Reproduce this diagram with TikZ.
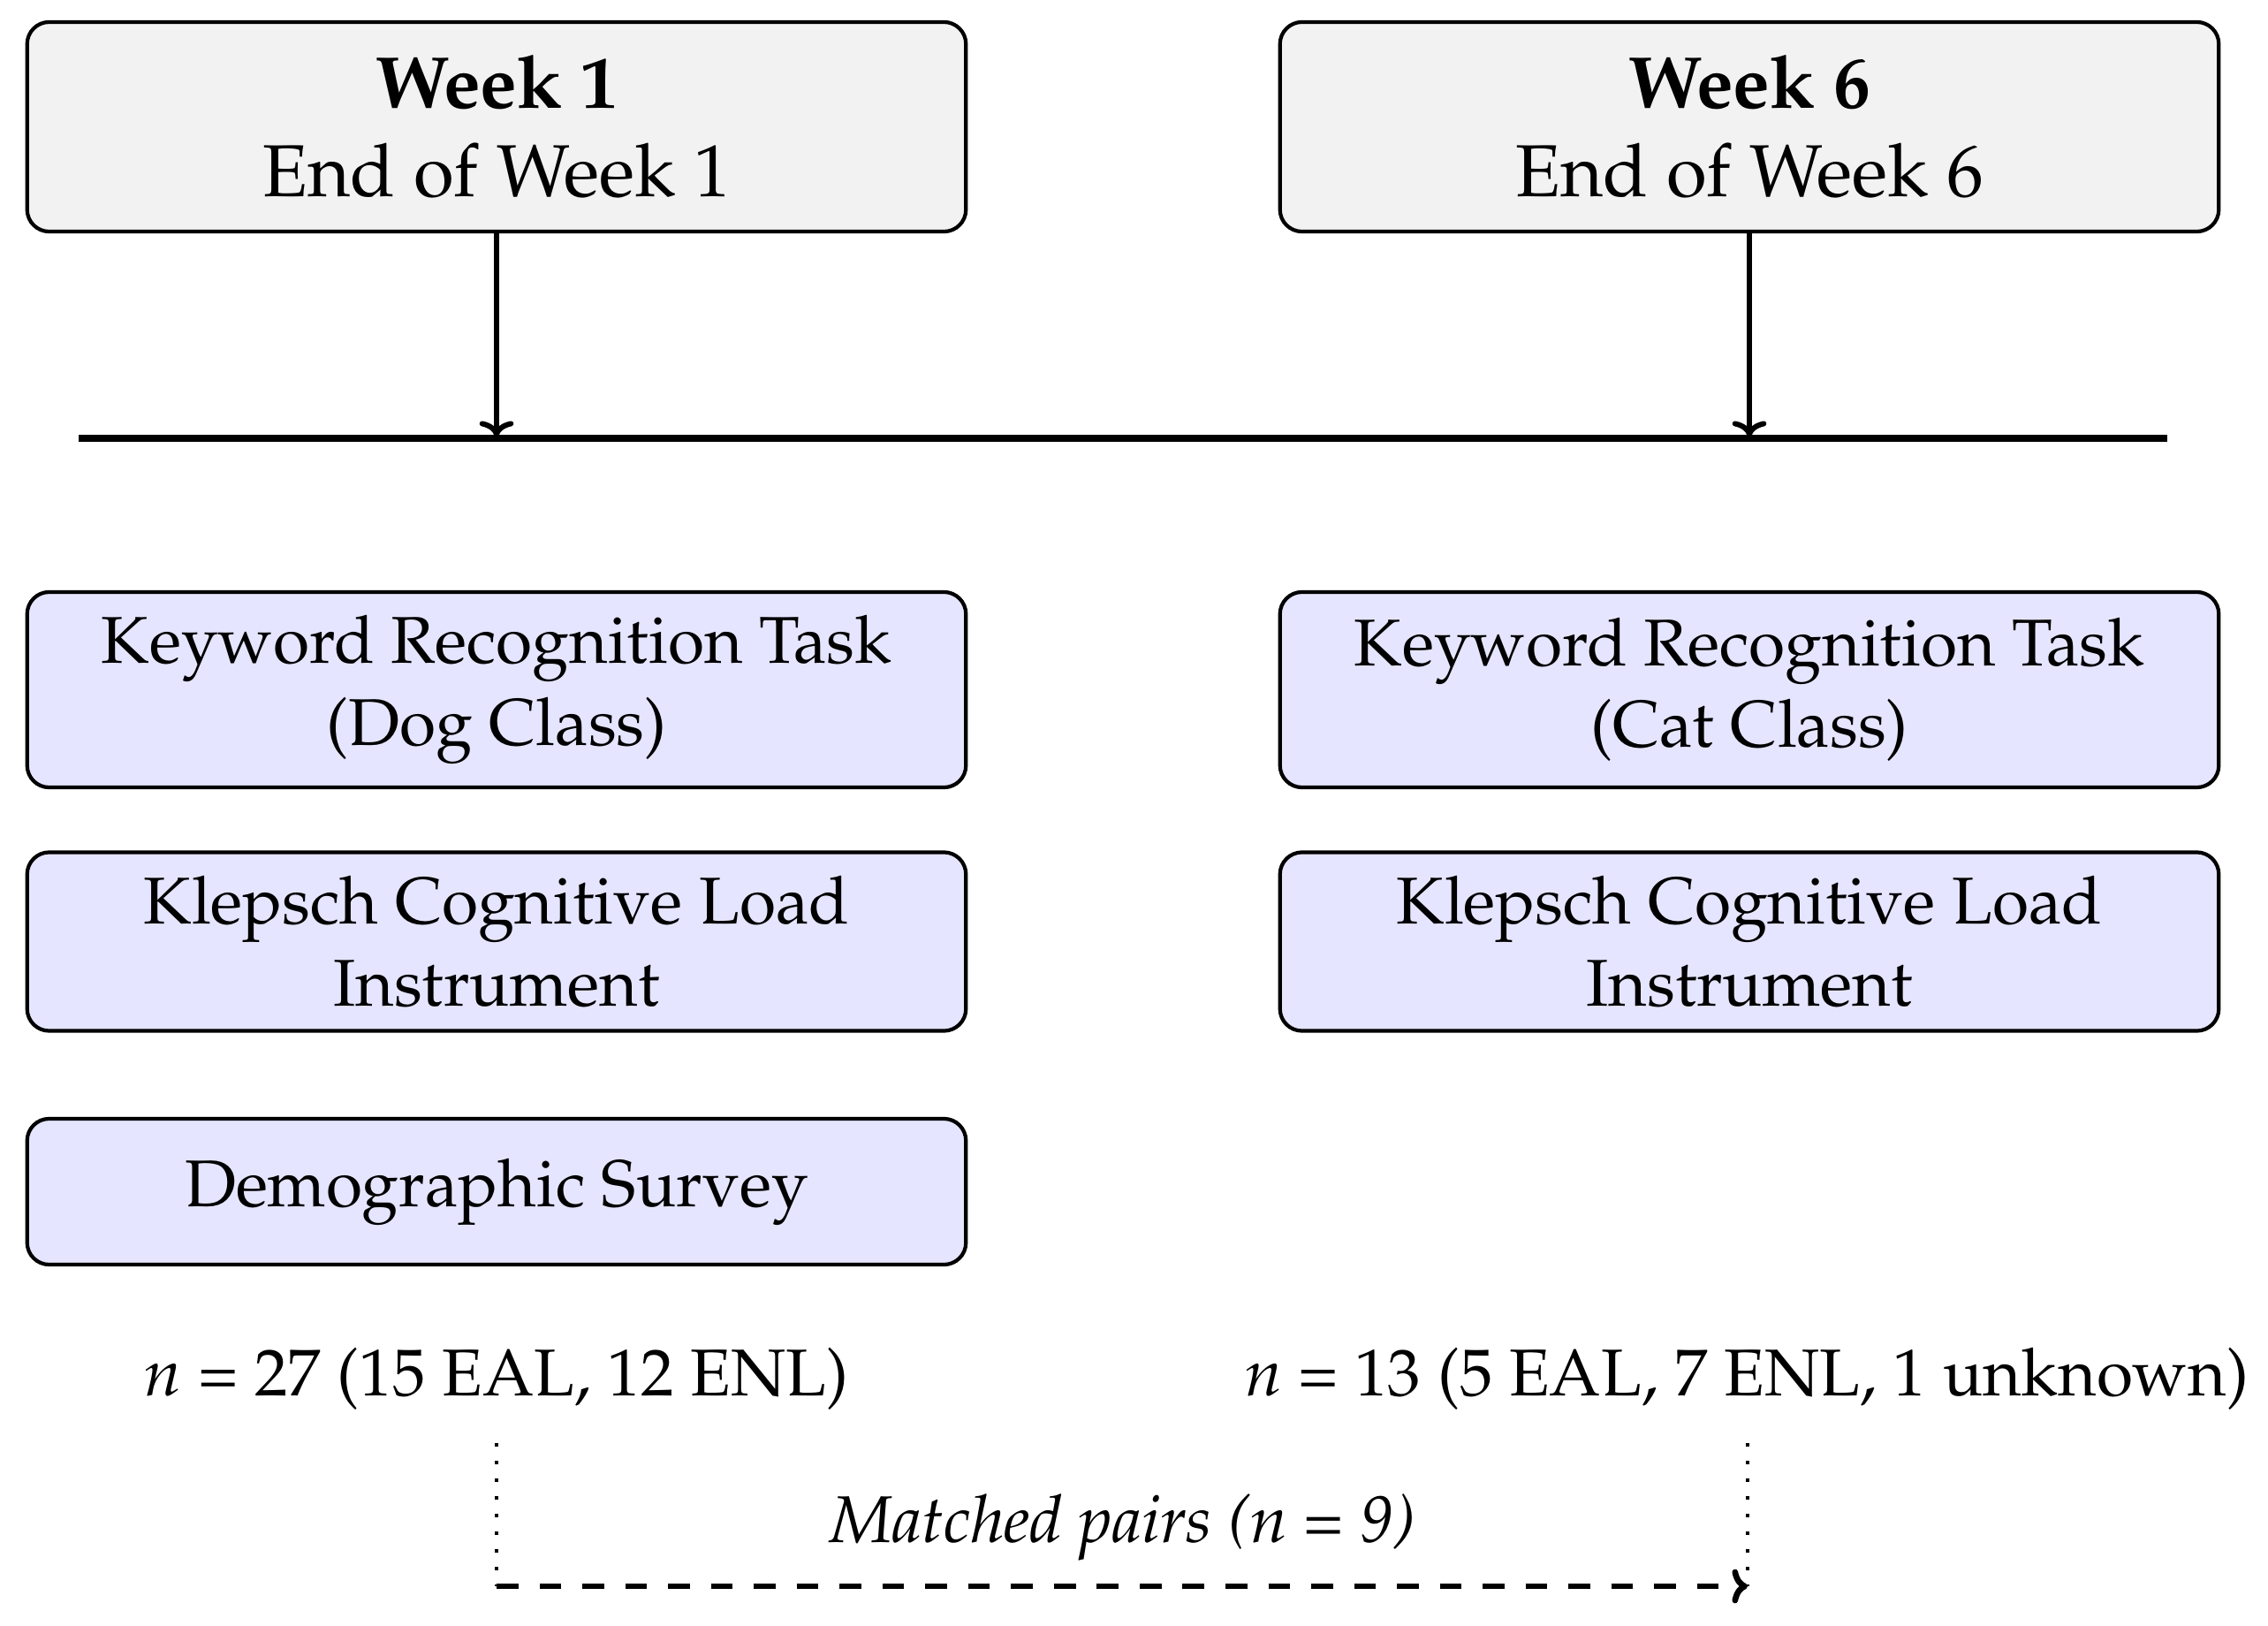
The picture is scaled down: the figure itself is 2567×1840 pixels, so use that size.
\documentclass[tikz,border=0pt]{standalone}
\usepackage[T1]{fontenc}
\usepackage{mathpazo}
\usetikzlibrary{arrows.meta}
\begin{document}
\begin{tikzpicture}[x=0.01cm,y=-0.01cm,
  weekbox/.style={draw,line width=1.2pt,rounded corners=0.25cm,fill=gray!10,
    minimum width=10.62cm,minimum height=2.37cm,inner sep=0pt,align=center,
    font=\fontsize{23.7}{28.4}\selectfont},
  taskbox/.style={draw,line width=1.2pt,rounded corners=0.25cm,fill=blue!10,
    minimum width=10.62cm,inner sep=0pt,align=center,
    font=\fontsize{21.3}{26.3}\selectfont},
  lbl/.style={inner sep=0pt,font=\fontsize{21.3}{26.3}\selectfont},
  cmarrow/.style={-{Computer Modern Rightarrow[length=5pt,width=11pt]}},
  dotline/.style={line width=1.1pt,dash pattern=on 1.1pt off 4.6pt}
]
\useasboundingbox (0,0) rectangle (2567,1840);
% week boxes
\node[weekbox] (w1) at (562,143.5) {\textbf{Week 1}\\End of Week 1};
\node[weekbox] (w6) at (1980,143.5) {\textbf{Week 6}\\End of Week 6};
% timeline
\coordinate (tl) at (89,496);
\coordinate (tr) at (2453,496);
\coordinate (t1) at (562,494);
\coordinate (t6) at (1980,494);
\draw[line width=2.5pt] (tl) -- (tr);
\draw[cmarrow,line width=1.7pt] (w1.south) -- (t1);
\draw[cmarrow,line width=1.7pt] (w6.south) -- (t6);
% task boxes
\node[taskbox,minimum height=2.21cm] (k1) at (562,780.5) {Keyword Recognition Task\\(Dog Class)};
\node[taskbox,minimum height=2.21cm] (k6) at (1980,780.5) {Keyword Recognition Task\\(Cat Class)};
\node[taskbox,minimum height=2.02cm] (c1) at (562,1065.5) {Klepsch Cognitive Load\\Instrument};
\node[taskbox,minimum height=2.02cm] (c6) at (1980,1065.5) {Klepsch Cognitive Load\\Instrument};
\node[taskbox,minimum height=1.65cm] (d1) at (562,1348.5) {Demographic Survey};
% sample sizes
\node[lbl,anchor=base] (n1) at (562,1579) {\textit{n} = 27 (15 EAL, 12 ENL)};
\node[lbl,anchor=base] (n6) at (1977,1579) {\textit{n} = 13 (5 EAL, 7 ENL, 1 unknown)};
\node[lbl,anchor=base] (mp) at (1271,1745) {\textit{Matched pairs (n = 9)}};
% matched pairs connector
\coordinate (a1) at (562,1633);
\coordinate (a2) at (562,1795);
\coordinate (b1) at (1978,1633);
\coordinate (b2) at (1978,1795);
\draw[dotline] (a1) -- (a2);
\draw[dotline] (b1) -- (b2);
\draw[cmarrow,line width=1.9pt,dash pattern=on 7pt off 6.8pt] (a2) -- (b2);
\end{tikzpicture}
\end{document}
